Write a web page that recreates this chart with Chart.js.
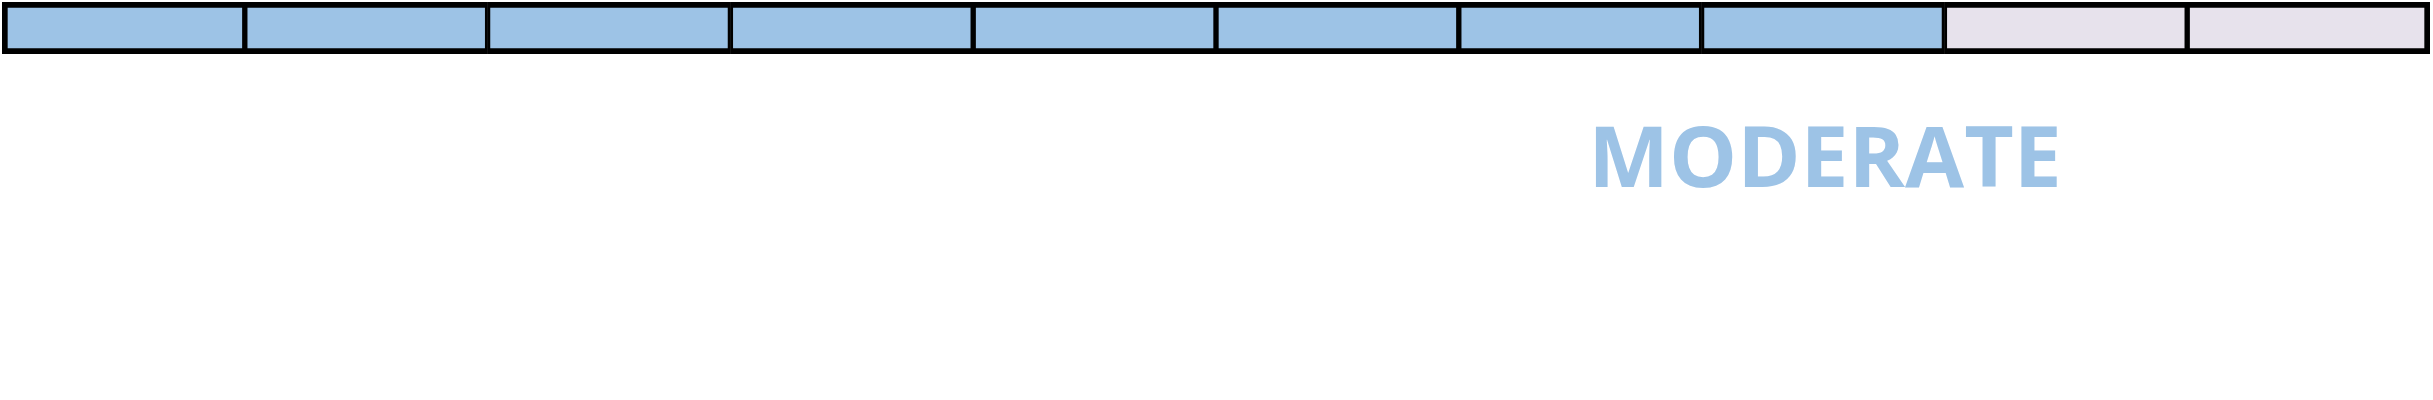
<!DOCTYPE html>
<html>
<head>
<meta charset="utf-8">
<title>Rating bar</title>
<script src="https://cdn.jsdelivr.net/npm/chart.js@4"></script>
<style>
  body { margin: 0; background: #ffffff; }
  canvas { display: block; }
</style>
</head>
<body>
<canvas id="ratingChart" width="2433" height="400"></canvas>
<script>
// rating scale data
const segmentLabels = ["1", "2", "3", "4", "5", "6", "7", "8", "9", "10"];
const segmentValues = [1, 1, 1, 1, 1, 1, 1, 1, 1, 1];
const ratingScore = 8;
const ratingLabel = "MODERATE";

const filledColor = "#9dc3e6";
const emptyColor = "#e7e2ec";

const datasets = segmentLabels.map((label, i) => ({
    label,
    data: [segmentValues[i]],
    backgroundColor: i < ratingScore ? filledColor : emptyColor,
    borderColor: "#000000",
    borderSkipped: false,
    borderWidth: {
        top: 6,
        bottom: 6,
        left: i === 0 ? 6 : 3,
        right: i === segmentLabels.length - 1 ? 6 : 3
    },
    categoryPercentage: 1,
    barPercentage: 1
}));

// writes the rating word under the last filled segment,
// stretched so it is as wide as the original lettering
const ratingText = {
    id: "ratingText",
    afterDraw(chart) {
        const { ctx, chartArea, scales } = chart;
        const cx = scales.x.getPixelForValue(ratingScore - 0.5) + 2;
        ctx.save();
        ctx.font = "bold 85px 'Open Sans', sans-serif";
        ctx.fillStyle = filledColor;
        ctx.textAlign = "center";
        ctx.textBaseline = "alphabetic";
        const m = ctx.measureText(ratingLabel);
        const ink = m.actualBoundingBoxLeft + m.actualBoundingBoxRight;
        ctx.translate(cx, chartArea.bottom + 133);
        ctx.scale(462 / ink, 1);
        ctx.fillText(ratingLabel, 0, 0);
        ctx.restore();
    }
};

new Chart(document.getElementById("ratingChart").getContext("2d"), {
    type: "bar",
    data: { labels: [""], datasets },
    options: {
        indexAxis: "y",
        responsive: false,
        animation: false,
        layout: { padding: { left: 2, right: 3, top: 2, bottom: 346 } },
        scales: {
            x: { stacked: true, min: 0, max: segmentLabels.length, display: false },
            y: { stacked: true, display: false }
        },
        plugins: {
            legend: { display: false },
            tooltip: { enabled: false }
        }
    },
    plugins: [ratingText]
});
</script>
</body>
</html>
